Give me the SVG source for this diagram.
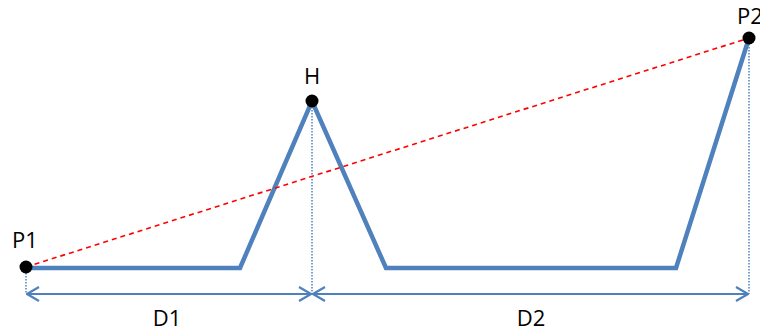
<svg xmlns="http://www.w3.org/2000/svg" width="760" height="330" viewBox="0 0 760 330">
<style>
.lbl{font-family:"Open Sans","Liberation Sans",sans-serif;font-size:22px;fill:#000}
.dot{fill:#000}
.guide{stroke:#4F81BD;stroke-width:1.5;stroke-dasharray:1.5 1.5;fill:none}
.dim{stroke:#4F81BD;stroke-width:2;fill:none}
</style>
<defs>
<marker id="ah" viewBox="0 0 14 16" refX="13" refY="8" markerWidth="14" markerHeight="16" markerUnits="userSpaceOnUse" orient="auto-start-reverse">
<path d="M1,1 L13,8 L1,15" fill="none" stroke="#4F81BD" stroke-width="2.2"/>
</marker>
</defs>
<rect width="760" height="330" fill="#fff"/>
<g id="connectors">
<line class="guide" x1="26" y1="267" x2="26" y2="294"/>
<line class="guide" x1="312" y1="101" x2="312" y2="294"/>
<line class="guide" x1="749" y1="38" x2="749" y2="294"/>
<polyline id="terrain" points="26,268 240,268 312,101 386,268 676,268 749,38" fill="none" stroke="#4F81BD" stroke-width="4.5" stroke-linejoin="miter"/>
<line x1="26" y1="267" x2="749" y2="38" stroke="#FF0000" stroke-width="1.6" stroke-dasharray="5 4"/>
<line class="dim" x1="27" y1="294" x2="311" y2="294" marker-start="url(#ah)" marker-end="url(#ah)"/>
<line class="dim" x1="313" y1="294" x2="748" y2="294" marker-start="url(#ah)" marker-end="url(#ah)"/>
</g>
<g id="P1"><circle class="dot" cx="26" cy="267" r="6.5"/><text class="lbl" x="12" y="248">P1</text></g>
<g id="H"><circle class="dot" cx="312" cy="101" r="6.5"/><text class="lbl" x="312" y="84" text-anchor="middle">H</text></g>
<g id="P2"><circle class="dot" cx="749" cy="38" r="6.5"/><text class="lbl" x="737" y="24">P2</text></g>
<g id="D1"><text class="lbl" x="167" y="326" text-anchor="middle">D1</text></g>
<g id="D2"><text class="lbl" x="531" y="326" text-anchor="middle">D2</text></g>
</svg>
